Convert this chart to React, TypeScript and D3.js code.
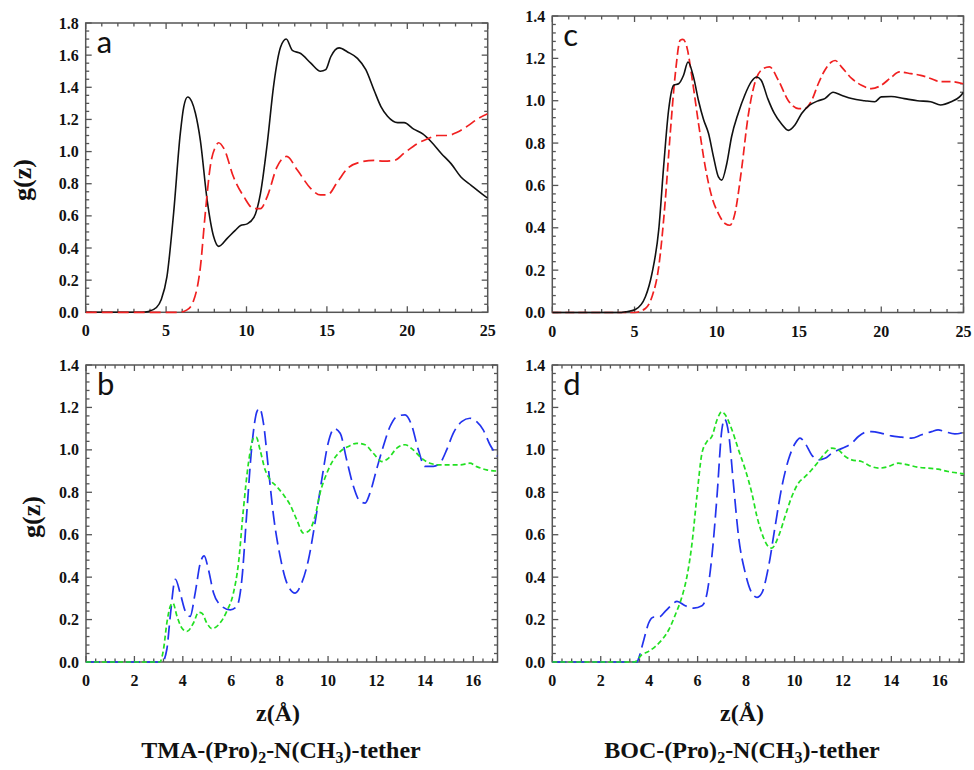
import React from "react";
import * as d3 from "d3";

// ---------- data ----------
const aSolid: [number, number][] = [
  [0, 0], [3.5, 0], [3.9, 0.005], [4.4, 0.03], [4.7, 0.08], [5.05, 0.22], [5.47, 0.62], [5.88, 1.11], [6.1, 1.28], [6.34, 1.34],
  [6.6, 1.31], [6.82, 1.24], [7.13, 1.07], [7.55, 0.7], [7.96, 0.47], [8.27, 0.41], [8.8, 0.46], [9.3, 0.51], [9.63, 0.54],
  [10.04, 0.55], [10.46, 0.59], [10.87, 0.74], [11.29, 1.05], [11.7, 1.42], [12.12, 1.65], [12.47, 1.7], [12.85, 1.63],
  [13.37, 1.61], [14.0, 1.55], [14.6, 1.5], [14.93, 1.51], [15.24, 1.59], [15.76, 1.645], [16.28, 1.62], [16.9, 1.58],
  [17.42, 1.51], [17.94, 1.38], [18.36, 1.28], [18.77, 1.22], [19.4, 1.18], [19.8, 1.18], [20.4, 1.14], [20.96, 1.11],
  [21.5, 1.06], [22.1, 0.99], [22.72, 0.925], [23.35, 0.84], [23.97, 0.79], [24.6, 0.74], [25, 0.71],
];
const aDashed: [number, number][] = [
  [0, 0], [5.8, 0], [6.3, 0.015], [6.7, 0.07], [7.13, 0.28], [7.44, 0.62], [7.75, 0.91], [8.07, 1.03], [8.27, 1.055],
  [8.59, 1.02], [9.2, 0.84], [9.83, 0.72], [10.46, 0.645], [10.87, 0.645], [11.29, 0.72], [11.9, 0.905], [12.5, 0.97],
  [13.16, 0.885], [14.0, 0.77], [14.6, 0.73], [15.03, 0.73], [15.65, 0.81], [16.28, 0.895], [17.1, 0.935], [17.94, 0.945],
  [18.56, 0.94], [19.19, 0.945], [19.8, 0.99], [20.64, 1.05], [21.27, 1.08], [21.9, 1.1], [22.5, 1.1], [23.1, 1.12],
  [23.76, 1.16], [24.4, 1.205], [25, 1.235],
];
const cSolid: [number, number][] = [
  [0, 0], [4.2, 0], [4.45, 0.003], [5.05, 0.014], [5.66, 0.074], [6.06, 0.184], [6.47, 0.39], [6.77, 0.69], [7.07, 0.955],
  [7.38, 1.073], [7.68, 1.08], [7.98, 1.12], [8.25, 1.183], [8.59, 1.11], [8.89, 1.0], [9.2, 0.91], [9.5, 0.845],
  [9.8, 0.735], [10.1, 0.64], [10.3, 0.625], [10.6, 0.7], [10.9, 0.83], [11.3, 0.94], [11.7, 1.026], [12.1, 1.09],
  [12.43, 1.112], [12.7, 1.097], [13.1, 1.01], [13.5, 0.94], [13.94, 0.89], [14.35, 0.86], [14.75, 0.885], [15.16, 0.94],
  [15.66, 0.98], [16.17, 1.0], [16.57, 1.01], [17.07, 1.04], [17.58, 1.026], [18.2, 1.01], [19.0, 1.0], [19.6, 0.995],
  [20.0, 1.018], [20.6, 1.02], [21.4, 1.01], [22.2, 1.0], [23.0, 0.995], [23.6, 0.98], [24.25, 0.995], [24.76, 1.018],
  [25, 1.04],
];
const cDashed: [number, number][] = [
  [0, 0], [5.0, 0], [5.66, 0.019], [6.06, 0.074], [6.47, 0.215], [6.87, 0.53], [7.17, 0.845], [7.48, 1.128], [7.78, 1.286],
  [7.94, 1.29], [8.18, 1.254], [8.49, 1.11], [8.89, 0.892], [9.3, 0.688], [9.7, 0.546], [10.1, 0.467], [10.5, 0.42],
  [10.8, 0.412], [11.1, 0.467], [11.5, 0.672], [11.9, 0.924], [12.3, 1.08], [12.7, 1.144], [13.2, 1.16], [13.74, 1.097],
  [14.35, 1.0], [14.96, 0.963], [15.36, 0.963], [15.76, 1.0], [16.17, 1.08], [16.57, 1.144], [16.97, 1.183], [17.2, 1.19],
  [17.58, 1.16], [18.2, 1.105], [18.8, 1.073], [19.4, 1.057], [20.0, 1.073], [20.6, 1.11], [21.1, 1.136], [21.8, 1.128],
  [22.4, 1.12], [23.0, 1.105], [23.6, 1.09], [24.25, 1.09], [25, 1.08],
];
const bBlue: [number, number][] = [
  [0, 0], [3.15, 0], [3.34, 0.06], [3.48, 0.215], [3.69, 0.39], [3.89, 0.325], [4.1, 0.24], [4.3, 0.215], [4.51, 0.325],
  [4.72, 0.466], [4.88, 0.5], [5.06, 0.435], [5.27, 0.325], [5.54, 0.27], [5.96, 0.246], [6.23, 0.262], [6.44, 0.39],
  [6.64, 0.7], [6.85, 1.016], [7.06, 1.18], [7.17, 1.196], [7.33, 1.126], [7.54, 0.906], [7.75, 0.686], [8.02, 0.498],
  [8.3, 0.372], [8.64, 0.325], [8.91, 0.372], [9.19, 0.482], [9.46, 0.655], [9.74, 0.86], [10.0, 1.03], [10.26, 1.1],
  [10.5, 1.078], [10.77, 0.952], [11.05, 0.827], [11.32, 0.757], [11.53, 0.749], [11.73, 0.796], [12.0, 0.906],
  [12.28, 1.016], [12.56, 1.11], [12.84, 1.157], [13.18, 1.165], [13.45, 1.117], [13.73, 1.0], [14.0, 0.922],
  [14.35, 0.922], [14.62, 0.937], [14.9, 1.0], [15.17, 1.078], [15.52, 1.133], [15.86, 1.149], [16.14, 1.133],
  [16.41, 1.094], [16.69, 1.024], [17, 0.97],
];
const bGreen: [number, number][] = [
  [0, 0], [3.05, 0], [3.2, 0.058], [3.34, 0.184], [3.48, 0.262], [3.59, 0.278], [3.76, 0.215], [3.96, 0.16], [4.17, 0.144],
  [4.44, 0.184], [4.65, 0.234], [4.79, 0.23], [4.99, 0.184], [5.2, 0.157], [5.48, 0.176], [5.82, 0.24], [6.09, 0.325],
  [6.3, 0.466], [6.5, 0.717], [6.71, 0.937], [6.92, 1.055], [7.03, 1.06], [7.19, 1.0], [7.4, 0.906], [7.61, 0.859],
  [7.88, 0.827], [8.16, 0.788], [8.43, 0.741], [8.71, 0.67], [8.98, 0.608], [9.19, 0.616], [9.46, 0.686], [9.67, 0.796],
  [9.95, 0.89], [10.22, 0.953], [10.5, 0.992], [10.84, 1.016], [11.18, 1.031], [11.53, 1.024], [11.87, 0.984],
  [12.22, 0.945], [12.49, 0.96], [12.84, 1.008], [13.18, 1.024], [13.52, 1.0], [13.87, 0.96], [14.21, 0.937],
  [14.62, 0.929], [15.03, 0.929], [15.44, 0.929], [15.86, 0.937], [16.14, 0.921], [16.55, 0.906], [17, 0.9],
];
const dBlue: [number, number][] = [
  [0, 0], [3.5, 0], [3.57, 0.019], [3.78, 0.105], [3.98, 0.184], [4.19, 0.212], [4.4, 0.212], [4.67, 0.24], [4.94, 0.27],
  [5.15, 0.286], [5.49, 0.265], [5.84, 0.254], [6.18, 0.265], [6.39, 0.325], [6.59, 0.498], [6.8, 0.78], [7.0, 1.094],
  [7.11, 1.145], [7.28, 1.078], [7.49, 0.827], [7.69, 0.592], [7.97, 0.419], [8.24, 0.325], [8.45, 0.305], [8.65, 0.325],
  [8.93, 0.45], [9.2, 0.639], [9.48, 0.827], [9.75, 0.953], [10.03, 1.031], [10.23, 1.055], [10.44, 1.031],
  [10.71, 0.976], [10.99, 0.953], [11.26, 0.96], [11.54, 0.984], [11.81, 1.0], [12.09, 1.013], [12.36, 1.031],
  [12.64, 1.063], [12.91, 1.082], [13.18, 1.086], [13.6, 1.078], [14.0, 1.066], [14.42, 1.06], [14.83, 1.055],
  [15.25, 1.071], [15.66, 1.086], [15.93, 1.094], [16.21, 1.086], [16.62, 1.075], [17, 1.082],
];
const dGreen: [number, number][] = [
  [0, 0], [3.4, 0], [3.7, 0.035], [3.98, 0.05], [4.26, 0.074], [4.53, 0.105], [4.81, 0.152], [5.08, 0.223], [5.36, 0.31],
  [5.56, 0.403], [5.77, 0.56], [5.97, 0.78], [6.18, 0.984], [6.39, 1.04], [6.59, 1.063], [6.8, 1.141], [7.0, 1.18],
  [7.14, 1.165], [7.42, 1.094], [7.69, 1.0], [7.97, 0.906], [8.24, 0.796], [8.45, 0.686], [8.65, 0.608], [8.86, 0.553],
  [9.06, 0.537], [9.34, 0.592], [9.61, 0.686], [9.89, 0.78], [10.16, 0.843], [10.44, 0.874], [10.71, 0.906],
  [10.99, 0.945], [11.26, 0.984], [11.54, 1.008], [11.81, 1.0], [12.09, 0.969], [12.36, 0.953], [12.77, 0.945],
  [13.18, 0.921], [13.52, 0.914], [13.87, 0.921], [14.28, 0.937], [14.69, 0.929], [15.11, 0.918], [15.52, 0.914],
  [15.93, 0.909], [16.34, 0.898], [17, 0.887],
];

const panelLetters = ["a", "c", "b", "d"];
const xLabel = "z(Å)";
const yLabel = "g(z)";

// ---------- styling / layout ----------
const SERIF = "'Liberation Serif', 'Times New Roman', serif";
const SANS = "Lato, 'Open Sans', sans-serif";
const FRAME = "#555";

type Series = { data: [number, number][]; color: string; dash: string; width: number };
type PanelCfg = {
  letter: string;
  box: [number, number, number, number]; // left, top, right, bottom
  xMax: number; yMax: number;
  xMajor: number; xMinor: number; yMajor: number; yMinor: number;
  series: Series[];
};

const panels: PanelCfg[] = [
  {
    letter: panelLetters[0], box: [85.7, 23, 487.7, 312.3], xMax: 25, yMax: 1.8,
    xMajor: 5, xMinor: 1, yMajor: 0.2, yMinor: 0.05,
    series: [
      { data: aSolid, color: "#111", dash: "none", width: 1.6 },
      { data: aDashed, color: "#f02020", dash: "11 5", width: 1.7 },
    ],
  },
  {
    letter: panelLetters[1], box: [552.3, 16, 963.5, 312.5], xMax: 25, yMax: 1.4,
    xMajor: 5, xMinor: 1, yMajor: 0.2, yMinor: 0.04,
    series: [
      { data: cDashed, color: "#f02020", dash: "9 4", width: 1.7 },
      { data: cSolid, color: "#111", dash: "none", width: 1.6 },
    ],
  },
  {
    letter: panelLetters[2], box: [86, 365, 497.5, 662], xMax: 17, yMax: 1.4,
    xMajor: 2, xMinor: 0.4, yMajor: 0.2, yMinor: 0.04,
    series: [
      { data: bBlue, color: "#2233ee", dash: "14 6", width: 1.7 },
      { data: bGreen, color: "#22e022", dash: "5 3", width: 1.7 },
    ],
  },
  {
    letter: panelLetters[3], box: [552.3, 365, 964, 662], xMax: 17, yMax: 1.4,
    xMajor: 2, xMinor: 0.4, yMajor: 0.2, yMinor: 0.04,
    series: [
      { data: dBlue, color: "#2233ee", dash: "14 6", width: 1.7 },
      { data: dGreen, color: "#22e022", dash: "5 3", width: 1.7 },
    ],
  },
];

function Panel({ p }: { p: PanelCfg }) {
  const [l, t, r, b] = p.box;
  const x = d3.scaleLinear().domain([0, p.xMax]).range([l, r]);
  const y = d3.scaleLinear().domain([0, p.yMax]).range([b, t]);
  const eps = 1e-6;
  const xMaj = d3.range(0, p.xMax + eps, p.xMajor);
  const xMin = d3.range(0, p.xMax + eps, p.xMinor).filter(v => Math.abs(v / p.xMajor - Math.round(v / p.xMajor)) > 1e-3);
  const yMaj = d3.range(0, p.yMax + eps, p.yMajor);
  const yMin = d3.range(0, p.yMax + eps, p.yMinor).filter(v => Math.abs(v / p.yMajor - Math.round(v / p.yMajor)) > 1e-3);
  const line = d3.line<[number, number]>().x(d => x(d[0])).y(d => y(d[1])).curve(d3.curveMonotoneX);
  const MAJ = 6, MIN = 3.5;
  const yFmt = d3.format(".1f");
  const ticks: JSX.Element[] = [];
  const addX = (vals: number[], len: number, key: string) => vals.forEach((v, i) => {
    ticks.push(<line key={`${key}b${i}`} x1={x(v)} x2={x(v)} y1={b} y2={b - len} />);
    ticks.push(<line key={`${key}t${i}`} x1={x(v)} x2={x(v)} y1={t} y2={t + len} />);
  });
  const addY = (vals: number[], len: number, key: string) => vals.forEach((v, i) => {
    ticks.push(<line key={`${key}l${i}`} x1={l} x2={l + len} y1={y(v)} y2={y(v)} />);
    ticks.push(<line key={`${key}r${i}`} x1={r} x2={r - len} y1={y(v)} y2={y(v)} />);
  });
  addX(xMaj, MAJ, "xM"); addX(xMin, MIN, "xm"); addY(yMaj, MAJ, "yM"); addY(yMin, MIN, "ym");
  const clipId = `clip-${p.letter}`;
  return (
    <g>
      <defs>
        <clipPath id={clipId}><rect x={l} y={t - 2} width={r - l} height={b - t + 4} /></clipPath>
      </defs>
      <g stroke={FRAME} strokeWidth={1.3}>{ticks}</g>
      <rect x={l} y={t} width={r - l} height={b - t} fill="none" stroke={FRAME} strokeWidth={1.5} />
      <g clipPath={`url(#${clipId})`}>
        {p.series.map((s, i) => (
          <path key={i} d={line(s.data) || ""} fill="none" stroke={s.color} strokeWidth={s.width}
            strokeDasharray={s.dash === "none" ? undefined : s.dash} strokeLinejoin="round" />
        ))}
      </g>
      <g fontFamily={SERIF} fontWeight="bold" fontSize={16} fill="#111">
        {xMaj.map((v, i) => (
          <text key={`xl${i}`} x={x(v)} y={b + 24} textAnchor="middle">{d3.format("d")(v)}</text>
        ))}
        {yMaj.map((v, i) => (
          <text key={`yl${i}`} x={l - 7} y={y(v)} dy="0.35em" textAnchor="end">{yFmt(v)}</text>
        ))}
      </g>
      <text x={l + 11} y={t + 30} fontFamily={SANS} fontSize={31} fill="#111">{p.letter}</text>
    </g>
  );
}

export default function App() {
  return (
    <svg width={974} height={770} viewBox="0 0 974 770"
      style={{ position: "absolute", left: 0, top: 0, background: "#fff" }}>
      <rect x={0} y={0} width={974} height={770} fill="#fff" />
      {panels.map(p => <Panel key={p.letter} p={p} />)}
      <g fontFamily={SERIF} fontWeight="bold" fill="#111">
        <text transform="translate(31,180) rotate(-90)" textAnchor="middle" fontSize={26}>{yLabel}</text>
        <text transform="translate(40,517) rotate(-90)" textAnchor="middle" fontSize={26}>{yLabel}</text>
        <text x={278} y={721} textAnchor="middle" fontSize={24}>{xLabel}</text>
        <text x={742} y={721} textAnchor="middle" fontSize={24}>{xLabel}</text>
        <text x={281} y={758} textAnchor="middle" fontSize={24}>
          TMA-(Pro)<tspan dy="5" fontSize={16}>2</tspan><tspan dy="-5">-N(CH</tspan><tspan dy="5" fontSize={16}>3</tspan><tspan dy="-5">)-tether</tspan>
        </text>
        <text x={742} y={758} textAnchor="middle" fontSize={24}>
          BOC-(Pro)<tspan dy="5" fontSize={16}>2</tspan><tspan dy="-5">-N(CH</tspan><tspan dy="5" fontSize={16}>3</tspan><tspan dy="-5">)-tether</tspan>
        </text>
      </g>
    </svg>
  );
}
